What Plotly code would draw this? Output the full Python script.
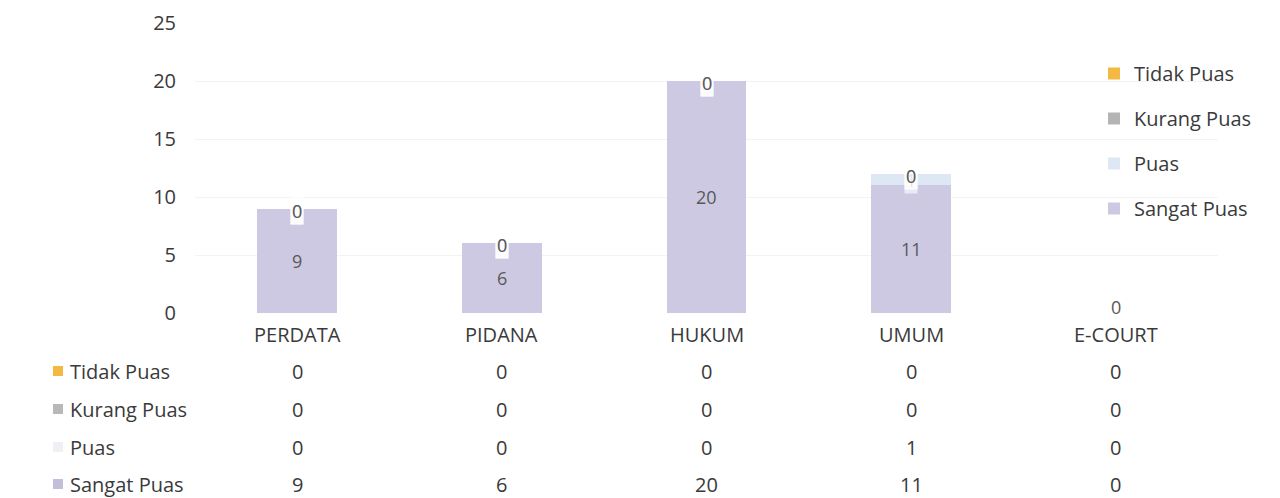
import plotly.graph_objects as go

categories = ["PERDATA", "PIDANA", "HUKUM", "UMUM", "E-COURT"]
series_names = ["Sangat Puas", "Puas", "Kurang Puas", "Tidak Puas"]
sangat_puas = [9, 6, 20, 11, 0]
puas = [0, 0, 0, 1, 0]
kurang_puas = [0, 0, 0, 0, 0]
tidak_puas = [0, 0, 0, 0, 0]
y_ticks = [0, 5, 10, 15, 20, 25]

series_values = [sangat_puas, puas, kurang_puas, tidak_puas]
colors = ["#cdc9e3", "#dde8f4", "#b4b4b4", "#f4b942"]
legend_colors = ["#c2bfd8", "#eef0f4", "#b8b8b8", "#f4b942"]
legend_rank = [4, 3, 2, 1]

FONT = "Open Sans"
FS = 20
TXT = "#3a3a3a"

fig = go.Figure()
for name, vals, col, rk in zip(series_names, series_values, colors, legend_rank):
    fig.add_trace(go.Bar(
        x=categories, y=vals, name=name, marker=dict(color=col, line=dict(width=0)),
        legendgroup=name, legendrank=rk, width=0.39, showlegend=True, hoverinfo="skip",
    ))

# data labels
base = [0] * len(categories)
for si, (name, vals) in enumerate(zip(series_names, series_values)):
    for ci, c in enumerate(categories):
        v = vals[ci]
        ypos = base[ci] + v / 2
        if categories[ci] == "E-COURT" and si > 0:
            continue
        bg = "rgba(255,255,255,0.6)" if (v == 0 or si > 0) else "rgba(0,0,0,0)"
        fig.add_annotation(
            x=c, y=ypos, xref="x", yref="y", text=str(v), showarrow=False,
            font=dict(family=FONT, size=FS - 2, color="#595959"),
            bgcolor=bg, borderpad=1,
            yshift=(-2 if v == 0 and c != "E-COURT" else (6 if c == "E-COURT" else 0)),
        )
    base = [b + v for b, v in zip(base, vals)]

fig.update_xaxes(showticklabels=False)
row_y = {"Tidak Puas": 371, "Kurang Puas": 409, "Puas": 447, "Sangat Puas": 484}
H = 498
top_px, bot_px = 23, 313
L, R = 195, 1218


def py(p):
    return (bot_px - p) / (bot_px - top_px)


def px(p):
    return (p - L) / (R - L)


for c in categories:
    fig.add_annotation(x=c, y=py(334), xref="x", yref="paper", text=c, showarrow=False,
                       font=dict(family=FONT, size=FS, color=TXT), yanchor="middle")

for name, vals, lc in zip(series_names, series_values, legend_colors):
    yy = py(row_y[name])
    fig.add_annotation(x=px(68), y=yy, xref="paper", yref="paper", text=name, showarrow=False,
                       xanchor="left", font=dict(family=FONT, size=FS, color=TXT), yanchor="middle")
    fig.add_shape(type="rect", xref="paper", yref="paper", x0=px(53), x1=px(63),
                  y0=py(row_y[name] + 5), y1=py(row_y[name] - 5),
                  fillcolor=lc, line=dict(width=0))
    for ci, c in enumerate(categories):
        fig.add_annotation(x=c, y=yy, xref="x", yref="paper", text=str(vals[ci]), showarrow=False,
                           font=dict(family=FONT, size=FS, color=TXT), yanchor="middle")

fig.update_layout(
    width=1280, height=498,
    margin=dict(l=L, r=1280 - R, t=top_px, b=H - bot_px, autoexpand=False),
    barmode="stack",
    plot_bgcolor="white", paper_bgcolor="white",
    font=dict(family=FONT, size=FS, color=TXT),
    yaxis=dict(range=[0, 25], tickvals=y_ticks, showgrid=True, gridcolor="#f3f3f3",
               zeroline=False, ticks="", ticklabelstandoff=18,
               tickfont=dict(family=FONT, size=FS, color=TXT)),
    xaxis=dict(showgrid=False, zeroline=False, showline=False),
    legend=dict(x=px(1094), y=py(54), xanchor="left", yanchor="top",
                traceorder="grouped", tracegroupgap=16,
                font=dict(family=FONT, size=FS, color=TXT), itemwidth=30,
                bgcolor="rgba(0,0,0,0)"),
    showlegend=True,
)

fig.write_html("out.html", config={"displayModeBar": False},
               post_script="document.body.style.margin='0';document.body.style.overflow='hidden';")
